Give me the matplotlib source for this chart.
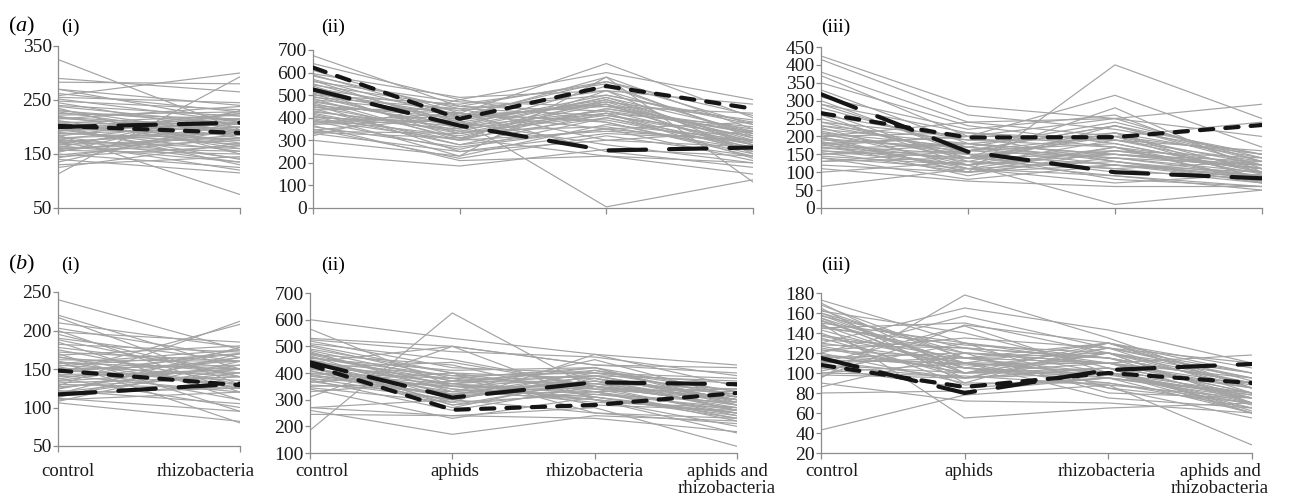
import numpy as np
import matplotlib
matplotlib.use('Agg')
import matplotlib.pyplot as plt
import matplotlib.transforms as mtransforms

# =============================================================
# FONT / STYLE
# =============================================================
plt.rcParams['font.family'] = ['Liberation Serif', 'DejaVu Serif']
plt.rcParams['mathtext.fontset'] = 'custom'
plt.rcParams['mathtext.rm'] = 'Liberation Serif'
plt.rcParams['mathtext.it'] = 'Liberation Serif:italic'

GREY_LINE = '#a3a3a3'
AXIS_COL = '#8c8c8c'
BLACK = '#151515'
FS = 14
FS_CAT = 13.5

# =============================================================
# DATA
# =============================================================
cats_two = ['control', 'rhizobacteria']
cats_four = ['control', 'aphids', 'rhizobacteria', 'aphids and\nrhizobacteria']

# (a)(i)
a1_long = [200, 208]
a1_short = [202, 189]
a1_grey = [
    [325, 195], [290, 265], [283, 280], [270, 240], [262, 228], [258, 300],
    [252, 210], [248, 232], [245, 190], [240, 220], [235, 150], [230, 205],
    [228, 180], [225, 215], [220, 170], [218, 200], [215, 238], [212, 160],
    [210, 195], [207, 222], [205, 175], [202, 130], [200, 210], [197, 185],
    [195, 155], [192, 225], [190, 168], [187, 200], [185, 75], [182, 142],
    [180, 190], [177, 215], [175, 160], [172, 120], [170, 200], [167, 180],
    [165, 135], [162, 230], [160, 175], [157, 150], [155, 195], [150, 125],
    [145, 165], [140, 115], [135, 210], [130, 145], [125, 170], [113, 293],
    [238, 205], [232, 185], [222, 228], [216, 195], [208, 165], [203, 215],
    [198, 140], [193, 205], [188, 178], [183, 225], [178, 135], [173, 190],
    [168, 210], [163, 155], [158, 185], [153, 230], [148, 180], [143, 195],
    [270, 210], [255, 245],
]

# (a)(ii)
a2_long = [525, 365, 255, 268]
a2_short = [622, 395, 540, 440]
a2_grey = [
    [675, 450, 560, 410], [640, 480, 600, 480], [610, 420, 640, 400],
    [595, 490, 520, 460], [585, 440, 500, 380], [570, 400, 580, 350],
    [560, 470, 450, 420], [550, 380, 480, 300], [540, 350, 420, 360],
    [530, 430, 520, 330], [520, 310, 400, 280], [510, 390, 470, 390],
    [500, 460, 550, 310], [495, 340, 360, 260], [485, 300, 440, 350],
    [480, 420, 380, 230], [470, 370, 500, 370], [460, 250, 330, 300],
    [455, 400, 460, 250], [450, 330, 410, 320], [440, 280, 350, 210],
    [435, 440, 300, 340], [425, 360, 430, 280], [420, 300, 520, 240],
    [410, 230, 370, 300], [400, 380, 280, 200], [395, 320, 440, 330],
    [385, 260, 400, 260], [380, 420, 250, 180], [370, 390, 5, 125],
    [360, 270, 350, 290], [350, 220, 320, 230], [345, 400, 460, 310],
    [335, 310, 230, 150], [330, 250, 300, 270], [320, 480, 380, 240],
    [239, 186, 260, 230], [300, 230, 580, 115], [365, 210, 230, 200],
    [590, 410, 450, 330], [565, 360, 490, 290], [545, 450, 430, 340],
    [515, 410, 560, 370], [505, 330, 460, 260], [490, 440, 410, 300],
    [475, 360, 540, 320], [465, 310, 480, 280], [445, 420, 350, 380],
    [430, 340, 470, 290], [415, 280, 420, 250], [405, 350, 490, 340],
    [390, 300, 340, 300], [375, 410, 390, 270], [340, 330, 420, 220],
]

# (a)(iii)
a3_long = [318, 157, 100, 83]
a3_short = [265, 197, 198, 232]
a3_grey = [
    [425, 285, 250, 200], [415, 260, 220, 150], [380, 240, 200, 120],
    [370, 200, 315, 170], [350, 230, 180, 100], [330, 180, 150, 130],
    [310, 220, 260, 110], [300, 150, 120, 90], [290, 210, 190, 160],
    [280, 170, 240, 140], [270, 130, 110, 70], [260, 190, 170, 120],
    [250, 140, 280, 100], [240, 200, 130, 80], [230, 160, 200, 150],
    [225, 110, 90, 60], [220, 180, 150, 110], [210, 120, 230, 130],
    [205, 150, 100, 90], [200, 210, 170, 70], [195, 100, 140, 120],
    [190, 170, 120, 100], [185, 130, 210, 80], [180, 90, 160, 140],
    [175, 150, 80, 60], [170, 120, 190, 110], [165, 180, 130, 90],
    [160, 140, 110, 130], [155, 100, 170, 75], [150, 160, 140, 100],
    [145, 120, 10, 50], [140, 80, 120, 85], [130, 140, 150, 120],
    [120, 100, 400, 250], [110, 75, 60, 60], [100, 130, 90, 50],
    [60, 110, 70, 95], [200, 240, 250, 290], [175, 200, 200, 240],
    [240, 150, 160, 110], [230, 190, 190, 130], [215, 140, 210, 100],
    [210, 170, 140, 90], [195, 160, 230, 120], [185, 110, 170, 95],
    [180, 200, 250, 130], [170, 140, 200, 80], [160, 120, 150, 110],
    [150, 180, 210, 140], [140, 110, 130, 70], [130, 160, 180, 100],
    [290, 160, 230, 150], [260, 120, 160, 110], [200, 100, 120, 75],
]

# (b)(i)
b1_long = [117, 131]
b1_short = [148, 129]
b1_grey = [
    [240, 175], [220, 150], [217, 130], [210, 178], [203, 165], [200, 120],
    [198, 185], [195, 140], [190, 160], [185, 110], [182, 172], [178, 150],
    [175, 130], [170, 95], [168, 180], [165, 145], [162, 160], [160, 125],
    [157, 175], [155, 140], [153, 110], [150, 155], [148, 135], [145, 170],
    [142, 120], [140, 150], [138, 100], [135, 165], [132, 140], [130, 125],
    [128, 212], [125, 155], [122, 105], [120, 145], [118, 178], [115, 130],
    [112, 95], [110, 120], [108, 160], [106, 82], [145, 208], [160, 80],
    [188, 140], [172, 160], [166, 125], [158, 150], [154, 170], [151, 130],
    [147, 160], [143, 145], [137, 175], [134, 150], [127, 140], [124, 165],
    [119, 125], [116, 150], [113, 170],
]

# (b)(ii)
b2_long = [440, 308, 365, 358]
b2_short = [430, 262, 280, 325]
b2_grey = [
    [600, 530, 470, 430], [565, 350, 300, 250], [530, 500, 430, 420],
    [525, 480, 460, 390], [520, 420, 400, 360], [510, 450, 350, 300],
    [500, 380, 420, 280], [490, 400, 330, 340], [480, 330, 450, 310],
    [475, 350, 380, 260], [470, 430, 310, 230], [465, 300, 390, 370],
    [460, 370, 360, 300], [455, 410, 420, 330], [450, 340, 290, 270],
    [445, 280, 370, 320], [440, 390, 340, 250], [435, 320, 400, 380],
    [430, 360, 320, 290], [425, 290, 470, 350], [420, 440, 350, 240],
    [415, 330, 300, 175], [410, 270, 380, 300], [400, 380, 280, 260],
    [395, 310, 360, 340], [390, 350, 330, 220], [380, 300, 410, 310],
    [375, 260, 350, 280], [365, 400, 250, 230], [355, 330, 370, 290],
    [345, 290, 320, 270], [340, 230, 310, 250], [330, 370, 390, 300],
    [310, 500, 430, 400], [270, 300, 250, 210], [260, 170, 240, 220],
    [245, 240, 270, 125], [185, 625, 340, 300], [270, 240, 230, 180],
    [440, 500, 300, 200],
    [505, 400, 380, 300], [485, 370, 410, 330], [470, 350, 350, 280],
    [458, 390, 400, 320], [448, 320, 330, 260], [438, 360, 390, 300],
    [428, 380, 360, 270], [418, 340, 310, 240], [408, 310, 350, 310],
    [398, 360, 420, 290], [388, 320, 370, 260], [378, 350, 340, 330],
    [368, 300, 390, 280], [350, 360, 300, 250], [420, 280, 330, 230],
]

# (b)(iii)
b3_long = [115, 80, 103, 109]
b3_short = [108, 86, 100, 90]
b3_grey = [
    [173, 130, 110, 80], [170, 100, 120, 70], [168, 115, 95, 60],
    [165, 90, 130, 85], [162, 140, 105, 75], [160, 120, 115, 90],
    [158, 105, 90, 65], [155, 95, 125, 100], [152, 110, 100, 70],
    [150, 130, 85, 55], [148, 100, 110, 80], [145, 150, 120, 95],
    [140, 88, 95, 75], [138, 115, 130, 85], [135, 95, 105, 60],
    [130, 110, 75, 65], [128, 125, 115, 90], [125, 100, 100, 80],
    [122, 135, 125, 110], [120, 90, 90, 70], [118, 108, 110, 95],
    [115, 120, 80, 75], [112, 95, 120, 85], [110, 115, 100, 68],
    [108, 100, 130, 100], [105, 85, 95, 80], [102, 130, 115, 90],
    [100, 110, 85, 70], [98, 95, 105, 62], [96, 148, 130, 105],
    [90, 72, 70, 60], [86, 120, 110, 118], [80, 82, 95, 78],
    [95, 178, 135, 85], [130, 165, 143, 110], [120, 157, 125, 95],
    [43, 78, 88, 75], [150, 55, 65, 70], [100, 97, 88, 28],
    [110, 147, 100, 60],
    [163, 115, 110, 85], [157, 125, 100, 75], [153, 100, 120, 90],
    [147, 120, 110, 70], [143, 105, 125, 80], [137, 110, 100, 90],
    [133, 125, 115, 75], [127, 100, 105, 85], [123, 115, 120, 70],
    [117, 105, 95, 80], [113, 110, 110, 88], [107, 95, 100, 65],
    [145, 128, 120, 100], [155, 110, 130, 92], [160, 105, 98, 78],
]

# =============================================================
# LAYOUT (pixel boxes: left, top, right, bottom)
# =============================================================
W, H = 1294, 499
panels = [
    dict(box=(58, 46, 240, 208), grey=a1_grey, long=a1_long, short=a1_short,
         cats=cats_two, yticks=[50, 150, 250, 350], labels=False),
    dict(box=(313, 50, 753, 208), grey=a2_grey, long=a2_long, short=a2_short,
         cats=cats_four, yticks=list(range(0, 701, 100)), labels=False),
    dict(box=(821, 47, 1262, 208), grey=a3_grey, long=a3_long, short=a3_short,
         cats=cats_four, yticks=list(range(0, 451, 50)), labels=False),
    dict(box=(58, 292, 240, 446), grey=b1_grey, long=b1_long, short=b1_short,
         cats=cats_two, yticks=list(range(50, 251, 50)), labels=True,
         dx=[10, -34]),
    dict(box=(310, 293, 737, 453), grey=b2_grey, long=b2_long, short=b2_short,
         cats=cats_four, yticks=list(range(100, 701, 100)), labels=True,
         dx=[12, 2, 0, -10]),
    dict(box=(821, 293, 1252, 453), grey=b3_grey, long=b3_long, short=b3_short,
         cats=cats_four, yticks=list(range(20, 181, 20)), labels=True,
         dx=[11, 4, -2, -32]),
]

fig = plt.figure(figsize=(W / 100, H / 100), dpi=100)

for p in panels:
    l, t, r, b = p['box']
    ax = fig.add_axes([l / W, 1 - b / H, (r - l) / W, (b - t) / H])
    n = len(p['cats'])
    x = np.arange(n)

    for row in p['grey']:
        ax.plot(x, row, color=GREY_LINE, lw=0.85, zorder=1)

    ax.plot(x, p['long'], color=BLACK, lw=3.0, linestyle=(0, (9, 5.5)),
            dash_capstyle='round', zorder=3)
    ax.plot(x, p['short'], color=BLACK, lw=3.0, linestyle=(0, (3.2, 2.9)),
            dash_capstyle='round', zorder=4)

    ax.set_xlim(0, n - 1)
    ax.set_ylim(p['yticks'][0], p['yticks'][-1])
    ax.set_yticks(p['yticks'])
    ax.set_xticks(x)
    ax.set_xticklabels([])

    for s in ['top', 'right']:
        ax.spines[s].set_visible(False)
    for s in ['left', 'bottom']:
        ax.spines[s].set_color(AXIS_COL)
        ax.spines[s].set_linewidth(0.9)
    ax.tick_params(axis='both', colors=AXIS_COL, length=3.5, width=0.9,
                   labelcolor='#1a1a1a', labelsize=FS, pad=1.0)
    ax.tick_params(axis='x', length=4)
    ax.patch.set_alpha(0)

    if p['labels']:
        trans = mtransforms.blended_transform_factory(ax.transData, fig.transFigure)
        for i, c in enumerate(p['cats']):
            tr = trans + mtransforms.ScaledTranslation(p['dx'][i] / 100, 0, fig.dpi_scale_trans)
            ax.text(i, 1 - 463 / H, c, transform=tr, ha='center', va='top',
                    fontsize=FS_CAT, color='#1a1a1a', linespacing=1.0,
                    multialignment='center', clip_on=False)

# =============================================================
# PANEL LETTERS
# =============================================================
fig.text(8 / W, 1 - 26 / H, r'($\mathit{a}$)', fontsize=16, va='center', ha='left')
fig.text(8 / W, 1 - 264 / H, r'($\mathit{b}$)', fontsize=16, va='center', ha='left')
for y_px in (27, 265):
    fig.text(70 / W, 1 - y_px / H, '(i)', fontsize=FS, va='center', ha='center')
    fig.text(333 / W, 1 - y_px / H, '(ii)', fontsize=FS, va='center', ha='center')
    fig.text(836 / W, 1 - y_px / H, '(iii)', fontsize=FS, va='center', ha='center')

fig.savefig('out.png', dpi=100)
